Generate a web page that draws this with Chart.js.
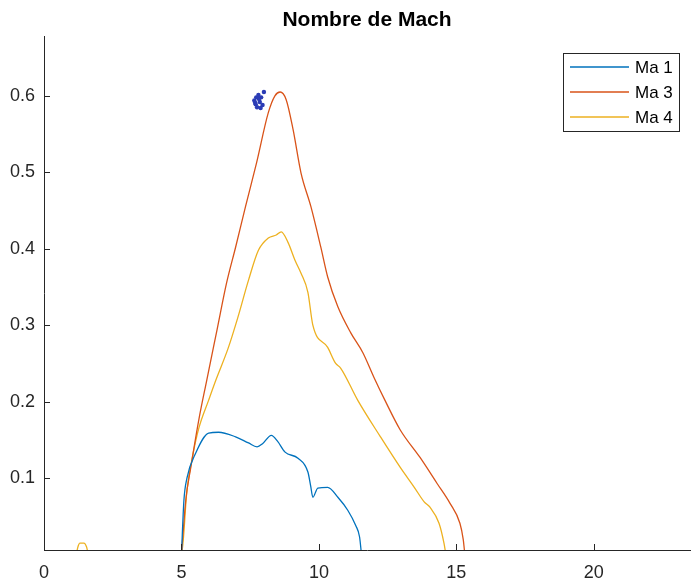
<!DOCTYPE html>
<html>
<head>
<meta charset="utf-8">
<script src="https://cdn.jsdelivr.net/npm/chart.js@4"></script>
<style>
  html, body { margin: 0; padding: 0; background: #fff; }
  #wrap { width: 694px; height: 582px; }
</style>
</head>
<body>
<div id="wrap"><canvas id="chart"></canvas></div>
<script>
// values
const xTicks = [0, 5, 10, 15, 20];
const yTicks = [0.1, 0.2, 0.3, 0.4, 0.5, 0.6];

const ma1X = [5.0, 5.09, 5.2, 5.52, 5.99, 6.35, 6.97, 7.44, 7.75, 7.95, 8.27, 8.5, 8.77, 9.24, 9.6, 9.7, 9.78, 9.96, 10.32, 10.69, 11.05, 11.34, 11.48, 11.55];
const ma1Y = [0.0, 0.071, 0.1, 0.133, 0.159, 0.160, 0.154, 0.146, 0.141, 0.145, 0.156, 0.148, 0.134, 0.126, 0.108, 0.09, 0.075, 0.087, 0.088, 0.075, 0.058, 0.038, 0.023, 0.0];

const ma3X = [5.0, 5.16, 5.34, 5.63, 5.92, 6.3, 6.64, 6.97, 7.33, 7.73, 8.16, 8.4, 8.59, 8.81, 9.06, 9.35, 9.71, 10.07, 10.32, 10.69, 11.16, 11.6, 12.0, 12.4, 12.96, 13.68, 14.3, 14.77, 15.13, 15.25, 15.31];
const ma3Y = [0.0, 0.072, 0.114, 0.176, 0.228, 0.295, 0.355, 0.402, 0.455, 0.512, 0.578, 0.600, 0.605, 0.595, 0.556, 0.499, 0.455, 0.402, 0.363, 0.324, 0.290, 0.264, 0.232, 0.202, 0.163, 0.127, 0.093, 0.067, 0.041, 0.02, 0.0];

const ma4X = [0, 1.15, 1.25, 1.3, 1.45, 1.55, 1.62, 5.0, 5.2, 5.38, 5.63, 5.99, 6.25, 6.7, 7.05, 7.44, 7.8, 8.16, 8.45, 8.63, 8.88, 9.13, 9.35, 9.6, 9.78, 10.32, 10.61, 10.79, 11.41, 12.24, 12.96, 13.47, 13.83, 14.04, 14.37, 14.55, 14.62];
const ma4Y = [0, 0, 0.012, 0.015, 0.015, 0.01, 0, 0.0, 0.084, 0.124, 0.165, 0.202, 0.228, 0.27, 0.31, 0.359, 0.398, 0.414, 0.418, 0.422, 0.408, 0.385, 0.368, 0.343, 0.300, 0.271, 0.250, 0.244, 0.202, 0.154, 0.114, 0.088, 0.069, 0.062, 0.041, 0.015, 0.0];

// little blue scribble near the red peak
const blobX = [7.65, 7.72, 7.8, 7.7, 7.85, 7.9, 7.75, 7.95, 7.82, 8.0, 7.68, 7.88];
const blobY = [0.594, 0.598, 0.601, 0.589, 0.592, 0.598, 0.585, 0.588, 0.596, 0.605, 0.591, 0.584];

const seriesNames = ["Ma 1", "Ma 3", "Ma 4"];
const seriesColors = ["#0072BD", "#D95319", "#EDB120"];

const toPoints = (xs, ys) => xs.map((x, i) => ({ x, y: ys[i] }));

const FONT = "'Liberation Sans', Arial, Helvetica, sans-serif";
const INK = "#262626";

function lineSet(i, xs, ys) {
    return {
        label: seriesNames[i],
        data: toPoints(xs, ys),
        borderColor: seriesColors[i],
        backgroundColor: seriesColors[i],
        borderWidth: 1.3,
        pointRadius: 0,
        showLine: true,
        cubicInterpolationMode: "monotone",
        clip: 0
    };
}

// inward tick marks like matlab
const tickMarks = {
    id: "tickMarks",
    afterDraw(chart) {
        const { ctx, chartArea, scales } = chart;
        ctx.save();
        ctx.strokeStyle = INK;
        ctx.lineWidth = 1;
        ctx.beginPath();
        xTicks.forEach(v => {
            const px = Math.round(scales.x.getPixelForValue(v)) + 0.5;
            ctx.moveTo(px, chartArea.bottom);
            ctx.lineTo(px, chartArea.bottom - 6);
        });
        yTicks.forEach(v => {
            const py = Math.round(scales.y.getPixelForValue(v)) + 0.5;
            ctx.moveTo(chartArea.left, py);
            ctx.lineTo(chartArea.left + 6, py);
        });
        ctx.stroke();
        ctx.restore();
    }
};

const boxLegend = {
    id: "boxLegend",
    afterDraw(chart) {
        const { ctx } = chart;
        const left = 563, top = 53, w = 116, h = 78;
        ctx.save();
        ctx.fillStyle = "#fff";
        ctx.fillRect(left, top, w, h);
        ctx.strokeStyle = INK;
        ctx.lineWidth = 1;
        ctx.strokeRect(left + 0.5, top + 0.5, w, h);
        ctx.font = "17px " + FONT;
        ctx.textBaseline = "middle";
        seriesNames.forEach((name, i) => {
            const y = 67 + i * 25;
            ctx.strokeStyle = seriesColors[i];
            ctx.lineWidth = 1.3;
            ctx.beginPath();
            ctx.moveTo(570, y);
            ctx.lineTo(629, y);
            ctx.stroke();
            ctx.fillStyle = "#000";
            ctx.fillText(name, 635, y + 1);
        });
        ctx.restore();
    }
};

new Chart(document.getElementById("chart"), {
    type: "scatter",
    data: {
        datasets: [
            lineSet(0, ma1X, ma1Y),
            lineSet(1, ma3X, ma3Y),
            lineSet(2, ma4X, ma4Y),
            {
                label: "blob",
                data: toPoints(blobX, blobY),
                backgroundColor: "#2b3cb5",
                borderColor: "#2b3cb5",
                pointRadius: 2.2,
                borderWidth: 0,
                showLine: false
            }
        ]
    },
    options: {
        responsive: true,
        maintainAspectRatio: false,
        animation: false,
        layout: { padding: { left: 0, right: 0, top: 0, bottom: 0 } },
        scales: {
            x: {
                type: "linear",
                min: 0,
                max: 23.5,
                afterBuildTicks: s => { s.ticks = xTicks.map(v => ({ value: v })); },
                afterFit: s => { s.height = 32; },
                grid: { display: false },
                border: { display: true, color: INK, width: 1 },
                ticks: { color: INK, padding: 4, maxRotation: 0, font: { size: 18, family: FONT } }
            },
            y: {
                type: "linear",
                min: 0.006,
                max: 0.678,
                afterBuildTicks: s => { s.ticks = yTicks.map(v => ({ value: v })); },
                afterFit: s => { s.width = 44; },
                grid: { display: false },
                border: { display: true, color: INK, width: 1 },
                ticks: { color: INK, padding: 1, font: { size: 18, family: FONT }, callback: v => v.toFixed(1) }
            }
        },
        plugins: {
            legend: { display: false },
            tooltip: { enabled: false },
            title: {
                display: true,
                text: "Nombre de Mach",
                fullSize: false,
                color: "#000",
                font: { size: 21, weight: "bold", family: FONT, lineHeight: 1.2 },
                padding: { top: 8, bottom: 3 }
            }
        }
    },
    plugins: [tickMarks, boxLegend]
});
</script>
</body>
</html>
